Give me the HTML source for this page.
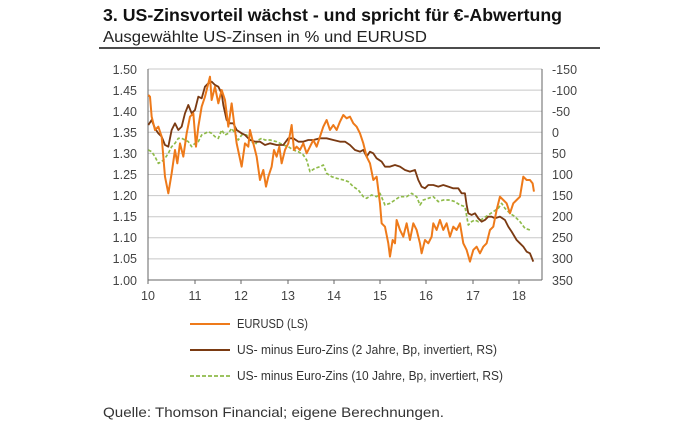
<!DOCTYPE html>
<html><head><meta charset="utf-8"><style>
body{margin:0;background:#fff;width:700px;height:430px;overflow:hidden;font-family:"Liberation Sans",sans-serif}
</style></head><body>
<svg width="700" height="430" xmlns="http://www.w3.org/2000/svg" font-family="Liberation Sans, sans-serif">
<text x="103" y="21" font-size="17.5" font-weight="bold" fill="#111" textLength="459" lengthAdjust="spacingAndGlyphs">3. US-Zinsvorteil wächst - und spricht für €-Abwertung</text>
<text x="103" y="42" font-size="16" fill="#222" textLength="324" lengthAdjust="spacingAndGlyphs">Ausgewählte US-Zinsen in % und EURUSD</text>
<line x1="99" y1="48" x2="600" y2="48" stroke="#111" stroke-width="1.5"/>
<g stroke="#c8c8c8" stroke-width="1">
<line x1="148" x2="542" y1="69" y2="69"/><line x1="148" x2="542" y1="90.1" y2="90.1"/><line x1="148" x2="542" y1="111.2" y2="111.2"/><line x1="148" x2="542" y1="132.3" y2="132.3"/><line x1="148" x2="542" y1="153.4" y2="153.4"/><line x1="148" x2="542" y1="174.5" y2="174.5"/><line x1="148" x2="542" y1="195.6" y2="195.6"/><line x1="148" x2="542" y1="216.7" y2="216.7"/><line x1="148" x2="542" y1="237.8" y2="237.8"/><line x1="148" x2="542" y1="258.9" y2="258.9"/>
</g>
<g stroke="#666" stroke-width="1">
<line x1="148" y1="69" x2="148" y2="280"/><line x1="542" y1="69" x2="542" y2="280"/><line x1="148" y1="280" x2="542" y2="280"/>
<line x1="195" y1="280" x2="195" y2="284"/><line x1="241" y1="280" x2="241" y2="284"/><line x1="288" y1="280" x2="288" y2="284"/><line x1="334" y1="280" x2="334" y2="284"/><line x1="380" y1="280" x2="380" y2="284"/><line x1="426" y1="280" x2="426" y2="284"/><line x1="473" y1="280" x2="473" y2="284"/><line x1="519" y1="280" x2="519" y2="284"/><line x1="148" y1="280" x2="148" y2="284"/>
</g>
<g font-size="12.5" fill="#444" text-anchor="end">
<text x="137" y="74">1.50</text><text x="137" y="95">1.45</text><text x="137" y="116">1.40</text><text x="137" y="137">1.35</text><text x="137" y="158">1.30</text><text x="137" y="179">1.25</text><text x="137" y="200">1.20</text><text x="137" y="221">1.15</text><text x="137" y="242">1.10</text><text x="137" y="263">1.05</text><text x="137" y="285">1.00</text>
</g>
<g font-size="12.5" fill="#444">
<text x="552" y="74">-150</text><text x="552" y="95">-100</text><text x="552" y="116">-50</text><text x="552" y="137">0</text><text x="552" y="158">50</text><text x="552" y="179">100</text><text x="552" y="200">150</text><text x="552" y="221">200</text><text x="552" y="242">250</text><text x="552" y="263">300</text><text x="552" y="285">350</text>
</g>
<g font-size="12.5" fill="#444" text-anchor="middle">
<text x="148" y="300">10</text><text x="195" y="300">11</text><text x="241" y="300">12</text><text x="288" y="300">13</text><text x="334" y="300">14</text><text x="380" y="300">15</text><text x="426" y="300">16</text><text x="473" y="300">17</text><text x="519" y="300">18</text>
</g>
<g transform="translate(90,50) scale(0.3333)" fill="none" stroke-linejoin="round">
<polyline stroke="#8fbb4a" stroke-width="5" stroke-dasharray="10,6" points="175,300 185,305 195,320 205,340 215,335 225,325 235,310 245,290 255,280 265,265 275,265 285,270 295,275 305,290 315,280 325,275 335,255 345,250 355,245 365,250 375,260 385,265 395,240 405,255 415,250 425,235 435,250 445,270 455,255 470,255 485,275 495,285 505,270 515,265 525,270 540,270 560,275 580,285 595,290 610,300 625,305 640,315 650,330 660,365 675,355 690,350 700,345 710,370 725,380 740,385 760,390 775,395 790,410 805,420 820,440 830,445 845,435 860,440 870,430 885,465 900,460 915,450 930,440 950,440 965,430 980,440 990,465 1000,450 1015,445 1030,440 1045,455 1060,450 1080,450 1095,455 1110,465 1125,470 1135,525 1145,515 1155,510 1165,515 1180,505 1195,495 1210,485 1225,475 1235,460 1245,475 1260,490 1275,500 1290,515 1305,535 1320,540"/>
<polyline stroke="#7a3a12" stroke-width="5.5" points="175,225 185,210 195,235 205,250 215,260 225,285 235,290 245,240 255,220 265,240 275,230 285,190 295,165 305,190 315,180 325,140 335,145 345,110 355,100 365,95 375,105 385,110 395,130 400,165 410,210 420,220 430,220 440,240 455,250 465,255 480,270 495,275 510,275 525,285 540,280 560,285 580,285 595,265 610,265 625,275 640,275 655,270 670,270 690,265 710,265 730,270 750,275 765,275 780,285 795,300 810,305 820,300 830,320 840,305 850,310 860,325 875,335 885,350 900,350 915,345 930,350 945,360 960,365 975,360 985,390 995,410 1005,415 1015,405 1030,405 1045,410 1060,405 1075,410 1090,415 1105,415 1115,430 1125,430 1130,465 1135,490 1145,495 1155,490 1165,505 1175,515 1185,510 1195,500 1205,500 1215,505 1230,500 1245,510 1255,530 1265,545 1280,570 1290,580 1300,590 1310,605 1320,610 1330,635"/>
<polyline stroke="#ee7a1a" stroke-width="6" points="175,135 180,140 185,200 195,240 205,230 215,260 225,380 235,430 245,370 255,300 262,340 270,280 280,320 290,250 300,200 310,190 318,290 325,230 335,170 345,140 355,100 360,80 365,150 375,110 385,160 395,120 405,150 415,230 425,160 430,200 440,280 455,350 465,280 475,290 480,240 490,280 500,320 510,390 520,360 528,410 535,380 545,350 552,300 560,320 568,290 575,340 585,300 595,280 605,225 612,300 620,290 630,300 640,280 650,310 660,290 670,270 680,290 690,260 700,230 710,210 720,240 730,225 740,240 750,215 760,195 770,205 780,200 790,220 800,230 810,250 820,280 830,320 840,340 850,390 860,380 870,460 875,520 885,530 895,580 900,620 908,570 915,580 920,510 930,540 940,560 950,520 960,570 970,520 980,540 990,580 995,610 1005,570 1015,580 1025,560 1030,520 1040,540 1050,510 1060,540 1070,520 1080,560 1090,530 1100,540 1110,520 1120,580 1130,600 1140,635 1150,600 1160,590 1170,610 1180,590 1190,580 1200,540 1210,530 1220,480 1230,440 1240,450 1250,460 1260,490 1270,460 1280,450 1290,440 1300,380 1310,390 1320,390 1328,400 1332,425"/>
</g>
<line x1="190" y1="324" x2="230" y2="324" stroke="#ee7a1a" stroke-width="2"/>
<line x1="190" y1="350" x2="230" y2="350" stroke="#7a3a12" stroke-width="2"/>
<line x1="190" y1="376" x2="230" y2="376" stroke="#8fbb4a" stroke-width="1.8" stroke-dasharray="4,2"/>
<g font-size="12.5" fill="#333">
<text x="237" y="328" textLength="71" lengthAdjust="spacingAndGlyphs">EURUSD (LS)</text>
<text x="237" y="354" textLength="260" lengthAdjust="spacingAndGlyphs">US- minus Euro-Zins (2 Jahre, Bp, invertiert, RS)</text>
<text x="237" y="380" textLength="266" lengthAdjust="spacingAndGlyphs">US- minus Euro-Zins (10 Jahre, Bp, invertiert, RS)</text>
</g>
<text x="103" y="417" font-size="14" fill="#333" textLength="341" lengthAdjust="spacingAndGlyphs">Quelle: Thomson Financial; eigene Berechnungen.</text>
</svg>
</body></html>
